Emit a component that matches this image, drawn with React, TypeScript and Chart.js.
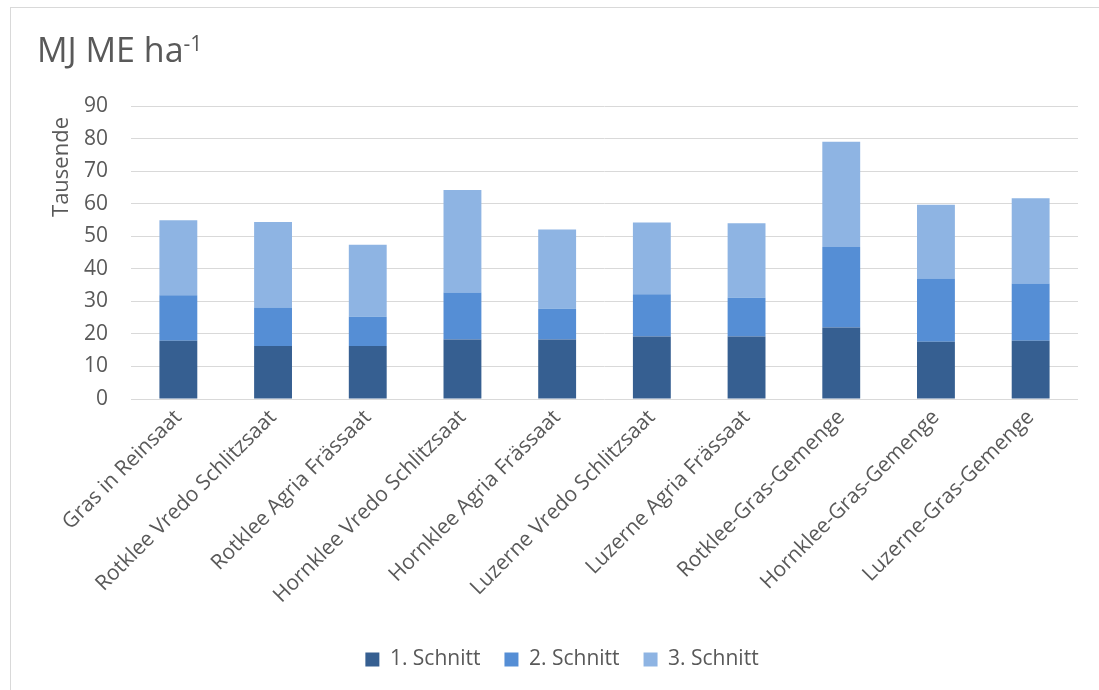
import React, { useEffect, useRef } from "react";
import { Chart, registerables } from "chart.js";

Chart.register(...registerables);

const categories = [
  "Gras in Reinsaat",
  "Rotklee Vredo Schlitzsaat",
  "Rotklee Agria Frässaat",
  "Hornklee Vredo Schlitzsaat",
  "Hornklee Agria Frässaat",
  "Luzerne Vredo Schlitzsaat",
  "Luzerne Agria Frässaat",
  "Rotklee-Gras-Gemenge",
  "Hornklee-Gras-Gemenge",
  "Luzerne-Gras-Gemenge",
];

const seriesNames = ["1. Schnitt", "2. Schnitt", "3. Schnitt"];
const schnitt1 = [17.9, 16.3, 16.3, 18.3, 18.3, 19.2, 19.2, 22.0, 17.6, 17.9];
const schnitt2 = [14.0, 11.8, 9.0, 14.4, 9.4, 13.0, 11.9, 24.7, 19.4, 17.6];
const schnitt3 = [23.0, 26.3, 22.1, 31.5, 24.4, 22.0, 22.9, 32.3, 22.7, 26.2];
const seriesColors = ["#365F91", "#558ED5", "#8EB4E3"];

const yMin = 0;
const yMax = 90;
const yStep = 10;

const chartTitle = "MJ ME ha";
const chartTitleSup = "-1";
const yAxisTitle = "Tausende";

const FONT = "'Open Sans', sans-serif";
const TEXT = "#595959";
const GRID = "#D9D9D9";

const axisTitlePlugin = {
  id: "axisTitleTop",
  afterDraw(chart: any) {
    const ctx = chart.ctx;
    ctx.save();
    ctx.translate(62, 167);
    ctx.rotate(-Math.PI / 2);
    ctx.font = `22px ${FONT}`;
    ctx.fillStyle = TEXT;
    ctx.textAlign = "center";
    ctx.textBaseline = "middle";
    ctx.fillText(yAxisTitle, 0, 0);
    ctx.restore();
  },
};

export default function App() {
  const canvasRef = useRef<HTMLCanvasElement>(null);

  useEffect(() => {
    const canvas = canvasRef.current;
    if (!canvas) return;
    const data = [schnitt1, schnitt2, schnitt3];
    const chart = new Chart(canvas, {
      type: "bar",
      data: {
        labels: categories,
        datasets: seriesNames.map((name, i) => ({
          label: name,
          data: data[i],
          backgroundColor: seriesColors[i],
          borderWidth: 0,
          barPercentage: 0.4,
          categoryPercentage: 1,
        })),
      },
      options: {
        responsive: false,
        animation: false,
        layout: { padding: { left: 46, top: 106, right: 21, bottom: 10 } },
        scales: {
          x: {
            stacked: true,
            grid: { display: false, drawTicks: false },
            border: { display: false },
            ticks: {
              color: TEXT,
              font: { family: FONT, size: 21 },
              maxRotation: 45,
              minRotation: 45,
              padding: 6,
              autoSkip: false,
            },
            afterFit: (scale: any) => {
              scale.height = 226;
            },
          },
          y: {
            stacked: true,
            min: yMin,
            max: yMax,
            grid: { color: GRID, lineWidth: 1, drawTicks: false },
            border: { display: false },
            ticks: {
              stepSize: yStep,
              color: TEXT,
              font: { family: FONT, size: 21 },
              padding: 23,
            },
            afterFit: (scale: any) => {
              scale.width = 85;
            },
          },
        },
        plugins: {
          legend: {
            position: "bottom",
            labels: {
              color: TEXT,
              font: { family: FONT, size: 21 },
              boxWidth: 14,
              boxHeight: 14,
              padding: 24,
            },
          },
          tooltip: { enabled: false },
          title: { display: false },
        },
      },
      plugins: [axisTitlePlugin],
    } as any);
    return () => chart.destroy();
  }, []);

  return (
    <div
      style={{
        position: "fixed",
        left: 0,
        top: 0,
        width: 1099,
        height: 690,
        background: "#fff",
        overflow: "hidden",
      }}
    >
      <div
        style={{
          position: "absolute",
          left: 10,
          top: 7,
          width: 1100,
          height: 700,
          border: `1px solid ${GRID}`,
        }}
      />
      <canvas
        ref={canvasRef}
        width={1099}
        height={690}
        style={{ position: "absolute", left: 0, top: 0 }}
      />
      <div
        style={{
          position: "absolute",
          left: 37,
          top: 26,
          fontFamily: FONT,
          fontSize: 34,
          lineHeight: "normal",
          color: TEXT,
          whiteSpace: "nowrap",
        }}
      >
        {chartTitle}
        <span style={{ fontSize: 21, verticalAlign: 11 }}>{chartTitleSup}</span>
      </div>
    </div>
  );
}
